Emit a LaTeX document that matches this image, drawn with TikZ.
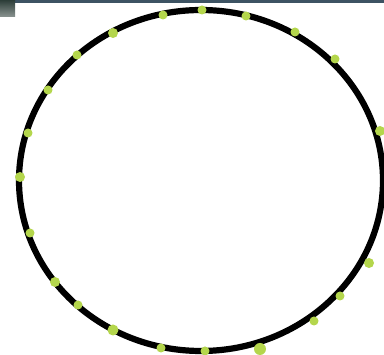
\documentclass[tikz,border=0pt]{standalone}
\definecolor{dotgreen}{HTML}{B4D64C}
\definecolor{barblue}{HTML}{3D5363}
\definecolor{blockgreen}{HTML}{2C3D38}
\tikzset{
  ring/.style={line width=6.2pt, draw=black},
  greendot/.style={fill=dotgreen, draw=none},
}
\begin{document}
\begin{tikzpicture}[x=1pt,y=-1pt]
\useasboundingbox (0,0) rectangle (384,355);
\fill[white] (0,0) rectangle (384,355);
% top bar and corner block
\fill[barblue] (0,0) rectangle (384,3);
\shade[top color=blockgreen, bottom color=blockgreen!55!white] (0,0) rectangle (15,17);
% ring
\draw[ring] (201,180.5) ellipse [x radius=182, y radius=170.5];
% dots
\foreach \p/\r in {
  {(202,10)}/4.5, {(246,16)}/4.5, {(295,32)}/4.5, {(335,59)}/4.5,
  {(163,15)}/4.5, {(113,33)}/5, {(77,55)}/4.5, {(48,90)}/4.5,
  {(28,133)}/4.5, {(20,177)}/5, {(30,233)}/4.5, {(55,282)}/5,
  {(78,305)}/4.5, {(113,330)}/5.5, {(161,348)}/4.5, {(205,351)}/4.5,
  {(260,349)}/6, {(314,321)}/4.5, {(340,296)}/4.5, {(369,263)}/5,
  {(380,131)}/5}
  \fill[greendot] \p circle[radius=\r];
\end{tikzpicture}
\end{document}
